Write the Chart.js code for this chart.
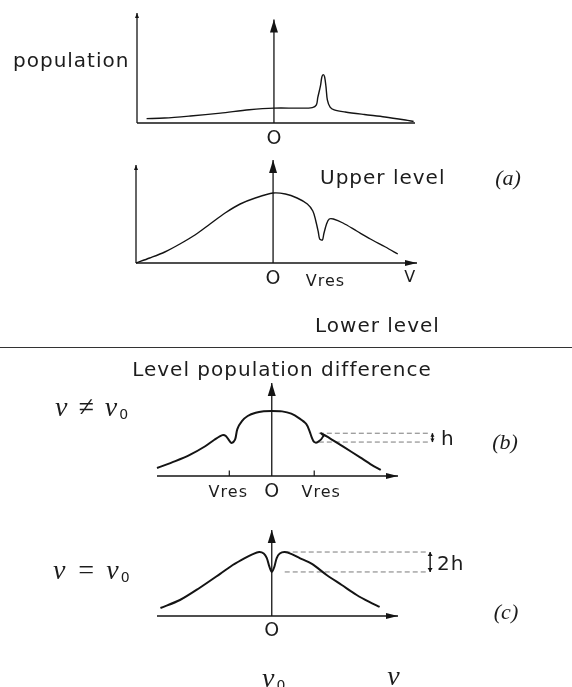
<!DOCTYPE html>
<html>
<head>
<meta charset="utf-8">
<script src="https://cdn.jsdelivr.net/npm/chart.js@4.4.1/dist/chart.umd.min.js"></script>
<style>
  html, body { margin: 0; padding: 0; background: #fff; }
  #page { position: relative; width: 572px; height: 687px; overflow: hidden; }
  canvas { position: absolute; }
  .lbl {
    position: absolute; transform: translate(-50%, -50%);
    font-family: "DejaVu Sans", sans-serif; font-size: 20px; letter-spacing: 1px;
    color: #1c1c1c; white-space: nowrap; line-height: 1;
  }
  .left { transform: translate(0, -50%); }
  .tick { font-size: 16px; letter-spacing: 1px; }
  .ring { font-size: 19px; letter-spacing: 0; }
  .tag { font-family: "Liberation Serif", serif; font-style: italic; font-size: 22px; letter-spacing: 0; }
  .nu { font-family: "Liberation Serif", serif; font-style: italic; font-size: 28px; letter-spacing: 2px; }
  .nu sub { font-family: "DejaVu Sans", sans-serif; font-style: normal; font-size: 14px; vertical-align: -3px; }
  #rule { position: absolute; left: 0; width: 572px; top: 347px; border-top: 1.4px solid #333; }
</style>
</head>
<body>
<div id="page">
  <canvas id="cUpper"></canvas>
  <canvas id="cLower"></canvas>
  <canvas id="cB"></canvas>
  <canvas id="cC"></canvas>
  <div id="rule"></div>
</div>
<script>
// (a) upper level: population vs velocity, narrow peak at v_res
const upperFreq = [-0.93, -0.80, -0.61, -0.39, -0.18, 0, 0.19, 0.28, 0.31, 0.32, 0.34, 0.35, 0.36, 0.37, 0.38, 0.39, 0.41, 0.44, 0.52, 0.66, 0.81, 0.96, 1.02];
const upperPop  = [0.04, 0.045, 0.064, 0.09, 0.12, 0.135, 0.135, 0.14, 0.165, 0.23, 0.34, 0.42, 0.44, 0.42, 0.33, 0.21, 0.145, 0.12, 0.10, 0.077, 0.055, 0.027, 0.014];

// (a) lower level: Doppler profile with a hole burnt at v_res
const lowerFreq = [-1.0, -0.90, -0.79, -0.68, -0.57, -0.46, -0.35, -0.24, -0.13, 0, 0.09, 0.175, 0.25, 0.29, 0.31, 0.33, 0.34, 0.36, 0.37, 0.39, 0.41, 0.44, 0.51, 0.61, 0.71, 0.82, 0.91];
const lowerPop  = [0, 0.05, 0.11, 0.19, 0.28, 0.39, 0.50, 0.59, 0.65, 0.70, 0.69, 0.65, 0.59, 0.52, 0.43, 0.31, 0.24, 0.23, 0.29, 0.39, 0.44, 0.44, 0.40, 0.32, 0.24, 0.16, 0.09];
const vRes = 0.36;

// (b) population difference, nu != nu0: two symmetric holes
const diffFreqB = [-1.0, -0.84, -0.71, -0.58, -0.50, -0.43, -0.40, -0.37, -0.35, -0.32, -0.30, -0.26, -0.21, -0.14, -0.07, 0, 0.09, 0.17, 0.24, 0.30, 0.33, 0.35, 0.37, 0.40, 0.45, 0.43, 0.50, 0.63, 0.77, 0.87, 0.95];
const diffB     = [0.086, 0.16, 0.23, 0.32, 0.39, 0.44, 0.43, 0.38, 0.355, 0.39, 0.505, 0.59, 0.645, 0.68, 0.695, 0.70, 0.695, 0.67, 0.62, 0.56, 0.48, 0.41, 0.365, 0.365, 0.43, 0.46, 0.41, 0.31, 0.20, 0.12, 0.065];
const resB  = [-0.37, 0.37];
const holeB = [0.46, 0.365];   // rim and bottom of the hole (depth h)

// (c) population difference, nu = nu0: one hole of depth 2h at the centre
const diffFreqC = [-0.97, -0.80, -0.63, -0.45, -0.34, -0.235, -0.165, -0.11, -0.07, -0.043, -0.022, 0, 0.022, 0.043, 0.07, 0.113, 0.174, 0.243, 0.35, 0.478, 0.61, 0.74, 0.85, 0.94];
const diffC     = [0.093, 0.186, 0.326, 0.49, 0.593, 0.674, 0.72, 0.744, 0.727, 0.674, 0.58, 0.512, 0.57, 0.674, 0.727, 0.744, 0.72, 0.674, 0.605, 0.477, 0.36, 0.244, 0.163, 0.105];
const holeC = [0.744, 0.512];

const INK = '#141414';
const PAD = 45;

// plot areas on the page, in px
const panels = {
  upper: { left: 137, top: 13,  width: 278,   height: 110, xMin: -1, xMax: 1.03, yMax: 1 },
  lower: { left: 136, top: 160, width: 281,   height: 103, xMin: -1, xMax: 1.05, yMax: 1.03 },
  b:     { left: 157, top: 383, width: 241.5, height: 93,  xMin: -1, xMax: 1.1,  yMax: 1 },
  c:     { left: 157, top: 530, width: 241.5, height: 86,  xMin: -1, xMax: 1.1,  yMax: 1 }
};

function curve(xs, ys, width) {
  return { data: xs.map((x, i) => ({ x: x, y: ys[i] })), borderColor: INK, borderWidth: width, tension: 0.3 };
}

function segment(x0, y0, x1, y1, width, extra) {
  return Object.assign({ data: [{ x: x0, y: y0 }, { x: x1, y: y1 }], borderColor: INK, borderWidth: width, tension: 0 }, extra || {});
}

// filled arrow heads at the end(s) of flagged datasets
const arrowHeads = {
  id: 'arrowHeads',
  afterDatasetsDraw(chart) {
    const ctx = chart.ctx;
    chart.data.datasets.forEach((ds, i) => {
      if (!ds.arrow) return;
      const pts = chart.getDatasetMeta(i).data;
      const ends = [[pts.length - 1, pts.length - 2]];
      if (ds.arrow.both) ends.push([0, 1]);
      ends.forEach(([a, b]) => {
        const p = pts[a], q = pts[b];
        const ang = Math.atan2(p.y - q.y, p.x - q.x);
        ctx.save();
        ctx.translate(p.x, p.y);
        ctx.rotate(ang);
        ctx.beginPath();
        ctx.moveTo(0, 0);
        ctx.lineTo(-ds.arrow.len, ds.arrow.w / 2);
        ctx.lineTo(-ds.arrow.len, -ds.arrow.w / 2);
        ctx.closePath();
        ctx.fillStyle = ds.borderColor;
        ctx.fill();
        ctx.restore();
      });
    });
  }
};

function makeChart(id, p, datasets) {
  const cv = document.getElementById(id);
  cv.width = p.width + 2 * PAD;
  cv.height = p.height + 2 * PAD;
  cv.style.left = (p.left - PAD) + 'px';
  cv.style.top = (p.top - PAD) + 'px';
  return new Chart(cv, {
    type: 'line',
    data: { datasets: datasets },
    options: {
      responsive: false,
      animation: false,
      events: [],
      layout: { padding: PAD },
      datasets: { line: { clip: false, pointRadius: 0, fill: false } },
      plugins: { legend: { display: false }, tooltip: { enabled: false } },
      scales: {
        x: { type: 'linear', display: false, min: p.xMin, max: p.xMax },
        y: { type: 'linear', display: false, min: 0, max: p.yMax }
      }
    },
    plugins: [arrowHeads]
  });
}

const small = { len: 5, w: 4 };
const big = { len: 13, w: 8 };
const side = { len: 12, w: 6 };

const chUpper = makeChart('cUpper', panels.upper, [
  curve(upperFreq, upperPop, 1.4),
  segment(-1, 0, -1, 1, 1.3, { arrow: small }),
  segment(-1, 0, 1.03, 0, 1.6),
  segment(0, 0, 0, 0.94, 1.3, { arrow: big })
]);

const chLower = makeChart('cLower', panels.lower, [
  curve(lowerFreq, lowerPop, 1.4),
  segment(-1, 0, -1, 0.98, 1.3, { arrow: small }),
  segment(-1, 0, 1.05, 0, 1.6, { arrow: side }),
  segment(0, 0, 0, 1.03, 1.3, { arrow: big })
]);

const dash = { borderColor: '#7a7a7a', borderWidth: 1, borderDash: [5, 3] };

const chB = makeChart('cB', panels.b, [
  curve(diffFreqB, diffB, 2),
  segment(-1, 0, 1.1, 0, 1.6, { arrow: side }),
  segment(0, 0, 0, 1, 1.3, { arrow: big }),
  segment(resB[0], 0, resB[0], 0.06, 1.2),
  segment(resB[1], 0, resB[1], 0.06, 1.2),
  segment(0.41, holeB[0], 1.37, holeB[0], 1, dash),
  segment(0.41, holeB[1], 1.37, holeB[1], 1, dash),
  segment(1.40, holeB[1], 1.40, holeB[0], 1.4, { arrow: { len: 3.5, w: 4, both: true } })
]);

const chC = makeChart('cC', panels.c, [
  curve(diffFreqC, diffC, 2),
  segment(-1, 0, 1.1, 0, 1.6, { arrow: side }),
  segment(0, 0, 0, 1, 1.3, { arrow: big }),
  segment(0.113, holeC[0], 1.357, holeC[0], 1, dash),
  segment(0.113, holeC[1], 1.357, holeC[1], 1, dash),
  segment(1.38, holeC[1], 1.38, holeC[0], 1.4, { arrow: { len: 4, w: 5, both: true } })
]);

const page = document.getElementById('page');

function label(html, x, y, cls) {
  const d = document.createElement('div');
  d.className = 'lbl ' + (cls || '');
  d.innerHTML = html;
  d.style.left = x + 'px';
  d.style.top = y + 'px';
  page.appendChild(d);
}

// label pinned to a data x value, dy px below the baseline
function axisLabel(chart, p, html, xv, dy, cls, dx) {
  const x = p.left - PAD + chart.scales.x.getPixelForValue(xv) + (dx || 0);
  const y = p.top - PAD + chart.scales.y.getPixelForValue(0) + dy;
  label(html, x, y, cls);
}

label('population', 13, 60, 'left');
axisLabel(chUpper, panels.upper, 'O', 0, 14, 'ring');
label('Upper level', 320, 177, 'left');
label('(a)', 508, 178, 'tag');

axisLabel(chLower, panels.lower, 'O', 0, 14, 'ring');
axisLabel(chLower, panels.lower, 'Vres', vRes, 18, 'tick', 3);
axisLabel(chLower, panels.lower, 'V', 1.0, 14, 'tick');
label('Lower level', 315, 325, 'left');

label('Level population difference', 282, 369);
label('&nu; &ne; &nu;<sub>0</sub>', 55, 407, 'nu left');
axisLabel(chB, panels.b, 'O', 0, 14, 'ring');
axisLabel(chB, panels.b, 'Vres', resB[0], 16, 'tick', -1);
axisLabel(chB, panels.b, 'Vres', resB[1], 16, 'tick', 7);
label('h', 441, 438, 'left');
label('(b)', 505, 442, 'tag');

label('&nu; = &nu;<sub>0</sub>', 53, 570, 'nu left');
axisLabel(chC, panels.c, 'O', 0, 13, 'ring');
label('2h', 437, 563, 'left');
label('(c)', 506, 612, 'tag');
axisLabel(chC, panels.c, '&nu;<sub>0</sub>', 0, 62, 'nu', 3);
axisLabel(chC, panels.c, '&nu;', 1.07, 60, 'nu');
</script>
</body>
</html>
